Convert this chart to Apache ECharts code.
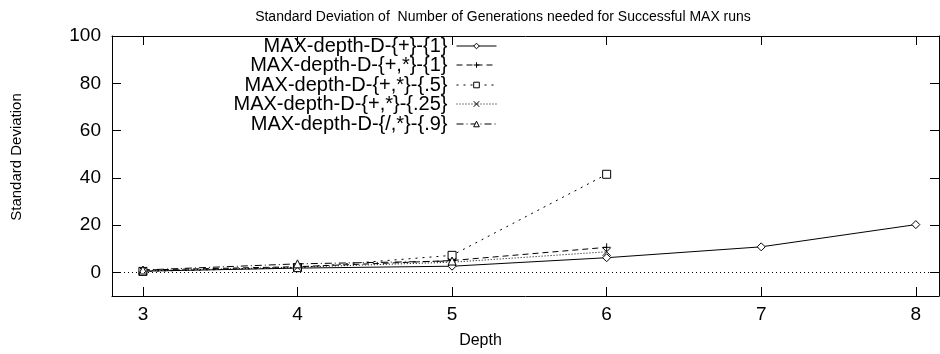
<!DOCTYPE html>
<html>
<head>
<meta charset="UTF-8">
<script src="https://cdn.jsdelivr.net/npm/echarts@6/dist/echarts.min.js"></script>
<style>
html, body { margin: 0; padding: 0; background: #fff; }
#main { width: 940px; height: 354px; }
</style>
</head>
<body>
<div id="main"></div>
<script>
// depth values on the x axis
var depths = [3, 4, 5, 6, 7, 8];
var xTicks = [3, 4, 5, 6, 7, 8];
var yTicks = [0, 20, 40, 60, 80, 100];

var names = [
  'MAX-depth-D-{+}-{1}',
  'MAX-depth-D-{+,*}-{1}',
  'MAX-depth-D-{+,*}-{.5}',
  'MAX-depth-D-{+,*}-{.25}',
  'MAX-depth-D-{/,*}-{.9}'
];
// std. deviation, one array per run type (missing depths left off)
var sdPlus1 = [0.5, 1.8, 2.6, 6.2, 10.8, 20.2];
var sdPlusMul1 = [1.0, 2.4, 5.0, 10.6];
var sdPlusMul05 = [0.4, 2.0, 7.2, 41.5];
var sdPlusMul025 = [0.6, 2.2, 4.3, 8.7];
var sdDivMul09 = [1.0, 3.6, 4.8];

var allValues = [sdPlus1, sdPlusMul1, sdPlusMul05, sdPlusMul025, sdDivMul09];

var symbols = [
  'diamond',
  'path://M0,5 L10,5 M5,0 L5,10',
  'rect',
  'path://M0,0 L10,10 M0,10 L10,0',
  'triangle'
];
var dashes = ['solid', [6, 4], [2, 5], [1, 2], [7, 3, 1, 3]];

function pairs(vals) {
  var out = [];
  for (var i = 0; i < vals.length; i++) {
    out.push([depths[i], vals[i]]);
  }
  return out;
}

var series = [];
var legends = [];
var legendTop = [47, 66, 86, 105, 125];
for (var i = 0; i < names.length; i++) {
  var s = {
    name: names[i],
    type: 'line',
    data: pairs(allValues[i]),
    symbol: symbols[i],
    symbolSize: 8,
    showAllSymbol: true,
    lineStyle: { color: '#000', width: 1, type: dashes[i] },
    itemStyle: { color: '#fff', borderColor: '#000', borderWidth: 1 },
    emphasis: { disabled: true },
    animation: false
  };
  if (i === 0) {
    // dotted zero line
    s.markLine = {
      silent: true,
      symbol: ['none', 'none'],
      label: { show: false },
      lineStyle: { color: '#000', width: 1, type: [1, 3] },
      data: [{ yAxis: 0 }]
    };
  }
  series.push(s);
  legends.push({
    data: [names[i]],
    orient: 'vertical',
    align: 'right',
    right: 443,
    top: legendTop[i] - 11,
    itemWidth: 40,
    itemHeight: 7,
    itemGap: 0,
    padding: 0,
    selectedMode: false,
    itemStyle: { color: '#fff', borderColor: '#000', borderWidth: 1 },
    lineStyle: { color: '#000', width: 1, type: dashes[i] },
    textStyle: { fontFamily: 'Liberation Sans', fontSize: 20, color: '#000', padding: [0, 4, 0, 0] }
  });
}

var tickFont = { fontFamily: 'Liberation Sans', fontSize: 19, color: '#000' };
var axisLine = { show: true, onZero: false, lineStyle: { color: '#000', width: 1 } };

var option = {
  backgroundColor: '#fff',
  animation: false,
  title: {
    text: 'Standard Deviation of  Number of Generations needed for Successful MAX runs',
    left: 498,
    textAlign: 'center',
    top: 5,
    textStyle: { fontFamily: 'Liberation Sans', fontSize: 14, fontWeight: 'normal', color: '#000' }
  },
  legend: legends,
  grid: { left: 112, right: 1, top: 36, bottom: 51 },
  xAxis: [{
    type: 'value',
    min: 2.8,
    max: 8.15,
    position: 'bottom',
    name: 'Depth',
    nameLocation: 'middle',
    nameGap: 37,
    nameTextStyle: { fontFamily: 'Liberation Sans', fontSize: 16, color: '#000', padding: [0, 90, 0, 0] },
    axisLine: axisLine,
    axisTick: { inside: true, length: 9, customValues: xTicks, lineStyle: { color: '#000' } },
    axisLabel: Object.assign({ customValues: xTicks, margin: 9 }, tickFont),
    splitLine: { show: false }
  }, {
    type: 'value',
    min: 2.8,
    max: 8.15,
    position: 'top',
    axisLine: axisLine,
    axisTick: { inside: true, length: 9, customValues: xTicks, lineStyle: { color: '#000' } },
    axisLabel: { show: false },
    splitLine: { show: false }
  }],
  yAxis: [{
    type: 'value',
    min: -10,
    max: 100,
    position: 'left',
    name: 'Standard Deviation',
    nameLocation: 'middle',
    nameRotate: 90,
    nameGap: 88,
    nameTextStyle: { fontFamily: 'Liberation Sans', fontSize: 15, color: '#000', padding: [0, 0, 0, 18] },
    axisLine: axisLine,
    axisTick: { inside: true, length: 9, customValues: yTicks, lineStyle: { color: '#000' } },
    axisLabel: Object.assign({ customValues: yTicks, margin: 11 }, tickFont),
    splitLine: { show: false }
  }, {
    type: 'value',
    min: -10,
    max: 100,
    position: 'right',
    axisLine: axisLine,
    axisTick: { inside: true, length: 9, customValues: yTicks, lineStyle: { color: '#000' } },
    axisLabel: { show: false },
    splitLine: { show: false }
  }],
  series: series
};

var myChart = echarts.init(document.getElementById('main'));
myChart.setOption(option);
</script>
</body>
</html>
